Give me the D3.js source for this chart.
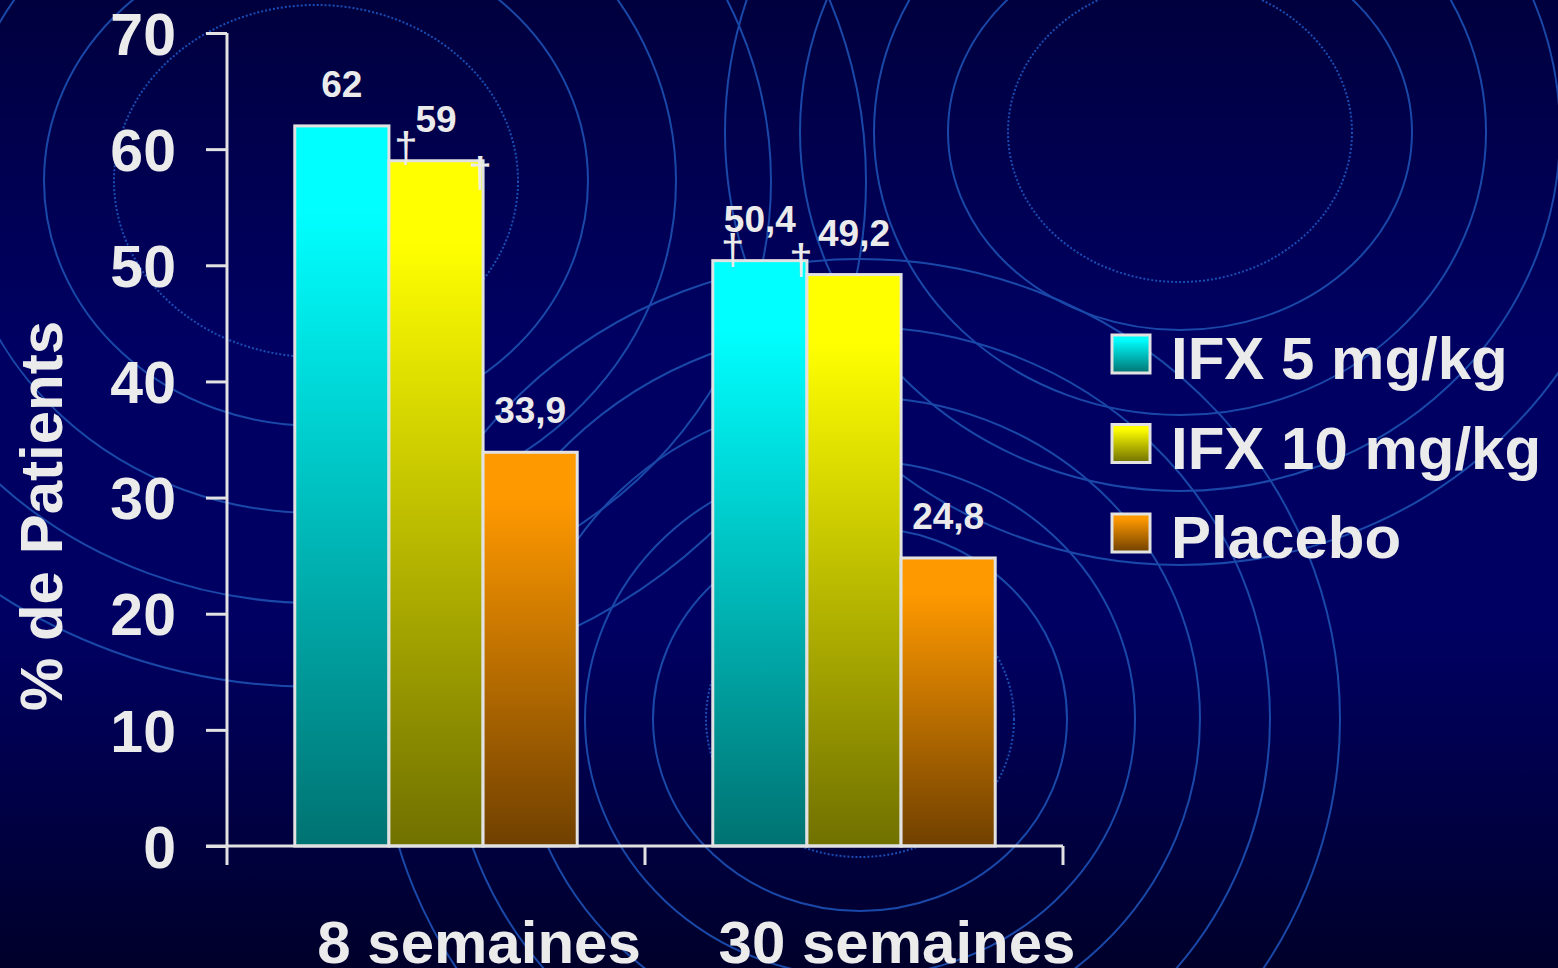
<!DOCTYPE html>
<html>
<head>
<meta charset="utf-8">
<script src="https://cdn.jsdelivr.net/npm/d3@7"></script>
<style>
  html, body { margin: 0; padding: 0; background: #000050; overflow: hidden; }
  svg { display: block; }
  text { font-family: "Liberation Sans", Arial, sans-serif; }
</style>
</head>
<body>
<svg id="chart" width="1558" height="968"></svg>
<script>
// ---- data ----
const categories = ["8 semaines", "30 semaines"];
const seriesNames = ["IFX 5 mg/kg", "IFX 10 mg/kg", "Placebo"];
const ifx5 = [62, 50.4];
const ifx10 = [59, 49.2];
const placebo = [33.9, 24.8];
const yTicks = [0, 10, 20, 30, 40, 50, 60, 70];
const yTitle = "% de Patients";
// significance daggers: which bar they belong to
const daggerCategory = ["8 semaines", "8 semaines", "30 semaines", "30 semaines"];
const daggerSeries = ["IFX 10 mg/kg", "IFX 10 mg/kg", "IFX 5 mg/kg", "IFX 5 mg/kg"];

// ---- styles / layout ----
const W = 1558, H = 968;
const textColor = "#ebebeb";
const axisColor = "#e2e2e2";
const seriesColors = {
  "IFX 5 mg/kg":  ["#00ffff", "#00ffff", "#007272"],
  "IFX 10 mg/kg": ["#ffff00", "#ffff00", "#707000"],
  "Placebo":      ["#ff9900", "#ff9900", "#704000"]
};
// [dx from bar edge, glyph top offset from bar top, which edge]
const daggerOffsets = [[17, -26, "start"], [-3, -1, "end"], [20, -24, "start"], [-6, -14, "end"]];
const daggerSize = 42;

const svg = d3.select("#chart");
const defs = svg.append("defs");

// background gradient
const bg = defs.append("linearGradient").attr("id", "bg").attr("x1", 0).attr("y1", 0).attr("x2", 0).attr("y2", 1);
bg.append("stop").attr("offset", "0%").attr("stop-color", "#00003e");
bg.append("stop").attr("offset", "35%").attr("stop-color", "#000062");
bg.append("stop").attr("offset", "65%").attr("stop-color", "#000062");
bg.append("stop").attr("offset", "100%").attr("stop-color", "#00002a");
svg.append("rect").attr("width", W).attr("height", H).attr("fill", "url(#bg)");

// decorative concentric rings
const ringGroups = [
  { cx: 316, cy: 181, rings: [[202, 176, true], [272, 245, false], [360, 332, false], [455, 422, false], [550, 506, false]] },
  { cx: 1180, cy: 132, rings: [[172, 150, true], [232, 198, false], [306, 283, false], [380, 359, false], [455, 433, false]] },
  { cx: 860, cy: 719, rings: [[154, 138, true], [207, 192, false], [275, 258, false], [340, 322, false], [410, 392, false], [480, 460, false]] }
];
const deco = svg.append("g");
ringGroups.forEach(g => {
  g.rings.forEach(r => {
    deco.append("ellipse")
      .attr("cx", g.cx).attr("cy", g.cy).attr("rx", r[0]).attr("ry", r[1])
      .attr("fill", "none")
      .attr("stroke", r[2] ? "#1a4cb4" : "#1a48a8")
      .attr("stroke-width", 2)
      .attr("stroke-dasharray", r[2] ? "2,2" : null);
  });
});

// gradients for bars
seriesNames.forEach((s, i) => {
  const g = defs.append("linearGradient").attr("id", "grad" + i)
    .attr("x1", 0).attr("y1", 0).attr("x2", 0).attr("y2", 1);
  g.append("stop").attr("offset", "0%").attr("stop-color", seriesColors[s][0]);
  g.append("stop").attr("offset", "12%").attr("stop-color", seriesColors[s][1]);
  g.append("stop").attr("offset", "100%").attr("stop-color", seriesColors[s][2]);
});

// ---- scales ----
const x0 = d3.scaleBand().domain(categories).range([227, 1063]).paddingInner(0).paddingOuter(0);
const x1 = d3.scaleBand().domain(seriesNames).range([0, x0.bandwidth()]).paddingInner(0).paddingOuter(0.72);
const y = d3.scaleLinear().domain([0, 70]).range([846, 33]);

const valuesBySeries = { "IFX 5 mg/kg": ifx5, "IFX 10 mg/kg": ifx10, "Placebo": placebo };
const data = [];
categories.forEach((c, ci) => {
  seriesNames.forEach((s, si) => {
    data.push({ cat: c, series: s, si: si, value: valuesBySeries[s][ci] });
  });
});
const fmt = v => String(v).replace(".", ",");

// ---- bars ----
svg.append("g").selectAll("rect").data(data).join("rect")
  .attr("x", d => x0(d.cat) + x1(d.series))
  .attr("y", d => y(d.value))
  .attr("width", x1.bandwidth())
  .attr("height", d => y(0) - y(d.value))
  .attr("fill", d => "url(#grad" + d.si + ")")
  .attr("stroke", axisColor)
  .attr("stroke-width", 3);

// ---- value labels ----
svg.append("g").selectAll("text").data(data).join("text")
  .attr("x", d => x0(d.cat) + x1(d.series) + x1.bandwidth() / 2)
  .attr("y", d => y(d.value) - 29)
  .attr("text-anchor", "middle")
  .attr("font-size", 37).attr("font-weight", "bold")
  .attr("fill", textColor)
  .text(d => fmt(d.value));

// ---- daggers ----
daggerCategory.forEach((c, i) => {
  const s = daggerSeries[i];
  const v = valuesBySeries[s][categories.indexOf(c)];
  const off = daggerOffsets[i];
  const bx = x0(c) + x1(s) + (off[2] === "start" ? off[0] : x1.bandwidth() + off[0]);
  svg.append("text")
    .attr("x", bx)
    .attr("y", y(v) + off[1] + daggerSize * 0.66)
    .attr("text-anchor", "middle")
    .attr("font-size", daggerSize)
    .attr("fill", textColor)
    .text("\u2020");
});

// ---- y axis ----
const yAxis = svg.append("g").attr("transform", "translate(227,0)")
  .call(d3.axisLeft(y).tickValues(yTicks).tickSize(21).tickPadding(30).tickFormat(d3.format("d")));
yAxis.select(".domain").attr("stroke", axisColor).attr("stroke-width", 3)
  .attr("d", `M0,${y(70)}V${y(0)}`);
yAxis.selectAll(".tick line").attr("stroke", axisColor).attr("stroke-width", 3);
yAxis.selectAll(".tick text")
  .attr("fill", textColor).attr("font-size", 59).attr("font-weight", "bold")
  .attr("font-family", "'Liberation Sans', Arial, sans-serif")
  .attr("dy", "0.36em");

// ---- x axis ----
const xAxis = svg.append("g").attr("transform", `translate(0,${y(0)})`);
xAxis.append("line").attr("x1", 206).attr("x2", x0.range()[1]).attr("y1", 0).attr("y2", 0)
  .attr("stroke", axisColor).attr("stroke-width", 3);
const xTickPos = categories.map(c => x0(c)).concat([x0(categories[categories.length - 1]) + x0.bandwidth()]);
xAxis.selectAll(".xt").data(xTickPos).join("line").attr("class", "xt")
  .attr("x1", d => d).attr("x2", d => d).attr("y1", 0).attr("y2", 19)
  .attr("stroke", axisColor).attr("stroke-width", 3);
xAxis.selectAll(".xl").data(categories).join("text").attr("class", "xl")
  .attr("x", d => x0(d) + x0.bandwidth() / 2 + 43)
  .attr("y", 117)
  .attr("text-anchor", "middle")
  .attr("font-size", 60).attr("font-weight", "bold")
  .attr("fill", textColor)
  .text(d => d);

// ---- y title ----
svg.append("text")
  .attr("transform", "translate(62,516) rotate(-90)")
  .attr("text-anchor", "middle")
  .attr("font-size", 60).attr("font-weight", "bold")
  .attr("fill", textColor)
  .text(yTitle);

// ---- legend ----
const legend = svg.append("g").attr("transform", "translate(1112,335)");
const li = legend.selectAll("g").data(seriesNames).join("g")
  .attr("transform", (d, i) => `translate(0,${i * 89.5})`);
li.append("rect").attr("width", 38).attr("height", 38)
  .attr("fill", (d, i) => "url(#grad" + i + ")")
  .attr("stroke", axisColor).attr("stroke-width", 3);
li.append("text").attr("x", 59).attr("y", 44)
  .attr("font-size", 60).attr("font-weight", "bold")
  .attr("fill", textColor)
  .text(d => d);
</script>
</body>
</html>
